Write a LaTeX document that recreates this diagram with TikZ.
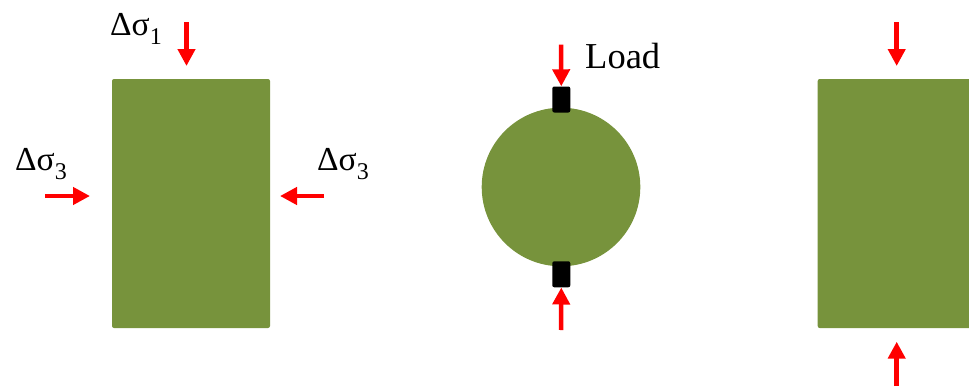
\documentclass[tikz,border=0pt]{standalone}
\usepackage{fontspec}
\setmainfont{Liberation Serif}
\usetikzlibrary{arrows.meta}
\definecolor{olive}{HTML}{77933C}
\newcommand{\lowsub}[1]{\raisebox{-0.27em}{\fontsize{24}{28}\selectfont #1}}
\tikzset{
  sample/.style={fill=olive, draw=none, rounded corners=2pt, inner sep=0pt, outer sep=0pt},
  block/.style={fill=black, draw=none, rounded corners=2pt, minimum width=18pt, minimum height=26pt, inner sep=0pt},
  force/.style={draw=red, line width=4.5pt, -{Triangle[width=17pt,length=17pt]}, red},
  lbl/.style={anchor=base west, inner sep=0pt, font=\fontsize{33.5}{40}\selectfont},
}
\begin{document}
\begin{tikzpicture}[x=1pt,y=-1pt]
\useasboundingbox (0,0) rectangle (969,386);
\clip (0,0) rectangle (969,386);
% left sample
\node[sample, minimum width=158pt, minimum height=249pt] (rectL) at (191,203.5) {};
\coordinate (t1s) at (186.5,22);  \coordinate (t1e) at (186.5,66);
\coordinate (l3s) at (45,196);    \coordinate (l3e) at (90,196);
\coordinate (r3s) at (324,196);   \coordinate (r3e) at (280,196);
\draw[force] (t1s) -- (t1e);
\draw[force] (l3s) -- (l3e);
\draw[force] (r3s) -- (r3e);
\node[lbl] (s1) at (110,35) {Δσ\lowsub{1}};
\node[lbl] (s3l) at (15,170) {Δσ\lowsub{3}};
\node[lbl] (s3r) at (317,170) {Δσ\lowsub{3}};
% middle: Brazilian test
\node[circle, fill=olive, draw=none, minimum size=158.6pt, inner sep=0pt] (disc) at (561,187) {};
\node[block] (bt) at (561.3,99.5) {};
\node[block] (bb) at (561.3,274.3) {};
\coordinate (ms) at (561,44.7);
\coordinate (me) at (561,330);
\draw[force] (ms) -- (bt.north);
\draw[force] (me) -- (bb.south);
\node[lbl, font=\fontsize{36.5}{42}\selectfont] (load) at (585,68) {Load};
% right sample
\node[sample, minimum width=158pt, minimum height=249pt] (rectR) at (896.7,203.5) {};
\coordinate (rts) at (896.7,22);  \coordinate (rte) at (896.7,66);
\coordinate (rbs) at (896.7,386); \coordinate (rbe) at (896.7,341.7);
\draw[force] (rts) -- (rte);
\draw[force] (rbs) -- (rbe);
\end{tikzpicture}
\end{document}
